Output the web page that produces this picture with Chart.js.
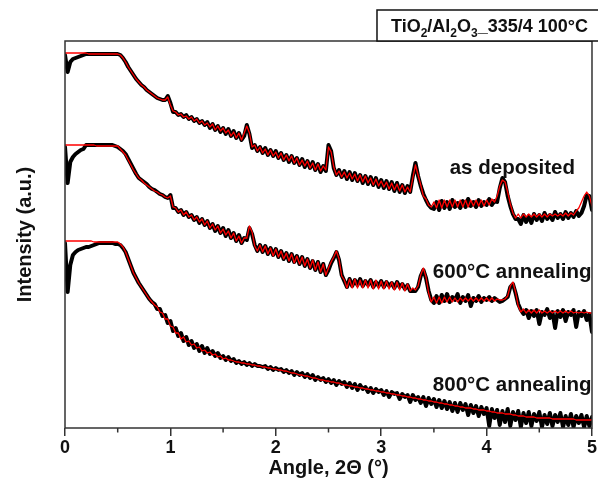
<!DOCTYPE html>
<html><head><meta charset="utf-8">
<script src="https://cdn.jsdelivr.net/npm/chart.js@4.4.1/dist/chart.umd.min.js"></script>
<style>html,body{margin:0;padding:0;background:#fff}canvas{display:block}</style>
</head><body>
<canvas id="c" width="598" height="488"></canvas>
<script>
// Scan grid of the measurement (2Theta, degrees)
const SCAN_START = 0, SCAN_STEP = 0.025, SCAN_POINTS = 201;
const angles = Array.from({length: SCAN_POINTS}, (_, i) => +(SCAN_START + i * SCAN_STEP).toFixed(3));

// Log intensity (a.u., curves offset vertically)
const asDepositedMeasured = [
373,356,366,369,370,371,372,373,
374,374,374,374,374,374,374,374,374,374,374,374,374,
373,370,366,361,357,353,349,346,343,341,338,336,334,332,330,329,328,328,332,325,316,
316,313,314,311,313,309,311,307,309,305,307,303,306,300,304,298,302,296,300,294,299,292,297,290,295,288,
292,303,294,280,
283,277,281,275,280,273,278,272,277,270,275,268,273,266,272,265,270,263,269,261,267,260,266,258,264,256,
262,257,283,277,260,253,
258,251,257,249,256,248,255,247,253,245,252,244,251,243,250,241,248,240,247,239,246,237,245,236,243,235,
242,236,252,265,252,242,234,228,223,220,
219,226,218,227,220,226,219,228,221,225,220,227,221,229,222,226,221,228,222,226,223,229,223,227,226,
240,250,246,232,222,214,209,
209,204,213,206,212,205,214,208,213,207,215,209,213,208,216,210,214,209,216,210,215,211,217,212,215,
222,233,232,218];
const asDepositedFit = [
375,375,375,375,375,375,375,375,375,374,374,374,374,374,374,374,374,374,374,374,374,
373,370,366,361,357,353,349,346,343,341,338,336,334,332,330,329,328,328,331,323,317,
316,313,314,311,312,309,311,307,309,305,307,303,305,301,304,298,302,297,300,295,298,292,296,290,295,288,
295,302,295,281,
283,277,281,275,279,273,278,272,276,270,275,268,273,267,272,265,270,263,268,262,267,260,265,258,264,257,262,258,281,276,261,253,
257,251,256,250,255,249,254,247,253,246,252,245,250,243,249,242,247,241,246,239,245,238,244,237,243,236,241,236,
250,263,253,243,232,229,223,221,
226,220,228,220,228,221,228,221,228,221,228,221,228,221,228,222,228,222,228,222,228,223,229,226,232,242,248,246,236,224,215,210,214,
210,214,211,214,211,214,211,214,211,214,211,214,212,214,212,214,212,215,212,215,213,217,220,226,232,236,232,222];

const annealed600Measured = [
281,245,266,271,274,276,278,279,
283,283,283,283,283,283,283,283,283,283,283,
282,281,
279,277,274,269,264,259,254,250,248,246,244,241,239,238,236,234,233,231,230,233,220,
220,216,218,213,216,211,213,208,211,205,209,203,207,200,204,197,202,195,200,192,198,190,195,187,193,185,
190,188,200,194,
183,177,183,176,182,174,180,173,179,171,177,169,175,167,174,166,172,164,171,162,169,160,167,158,166,156,164,
153,158,165,170,176,168,153,147,
141,149,142,148,143,149,142,147,143,148,141,146,142,147,141,146,142,145,140,146,141,144,139,143,137,137,137,141,152,158,150,137,128,125,
132,125,133,127,134,126,131,128,134,125,131,127,133,122,130,127,132,126,130,128,131,127,130,128,126,
127,129,131,141,144,135,124,118,
114,118,110,117,112,118,104,116,113,119,110,116,100,117,111,118,107,116,113,118,101,116,112,117,108,114,96];
const annealed600Fit = [
283,283,283,283,283,283,283,283,283,283,283,283,282,282,282,282,282,282,282,282,282,
279,276,273,268,263,258,254,250,248,245,243,241,239,237,236,234,233,231,230,232,221,
220,216,218,213,216,211,213,208,211,206,209,203,207,200,204,198,202,195,199,193,197,190,195,187,192,185,190,190,202,196,182,177,
183,176,182,174,180,172,179,171,177,169,175,167,174,165,172,164,171,162,169,160,168,158,166,156,164,153,160,166,171,177,169,152,148,
140,149,140,149,140,148,140,148,140,148,139,148,139,147,139,147,139,146,138,146,138,145,137,144,137,140,138,142,153,160,151,135,126,131,
125,131,125,131,126,131,126,130,126,130,127,130,127,130,127,130,127,130,127,130,127,130,127,129,128,128,129,132,142,146,136,122,116,
119,115,118,115,118,115,118,115,117,115,117,115,117,115,117,115,117,115,117,115,116,115,116,115,116,115,115];

const annealed800Measured = [
185,136,163,173,176,178,179,180,181,181,182,183,184,185,185,185,185,185,185,184,184,183,
180,176,169,162,155,150,145,141,137,133,129,126,
124,119,119,112,113,105,107,97,100,92,95,87,91,83,87,80,84,77,82,75,80,74,77,72,75,70,72,68,71,67,69,65,67,64,66,63,65,62,64,62,62,61,62,59,61,58,60,
58,59,56,58,55,57,53,56,53,55,51,54,50,53,48,51,48,50,46,49,45,48,43,47,44,46,41,45,40,44,38,43,39,41,36,40,35,39,36,38,
33,37,31,36,34,35,29,34,31,33,26,33,28,31,25,31,22,30,24,29,21,28,20,27,19,26,17,25,16,25,18,24,13,23,15,22,12,21,14,20,
2,19,10,18,3,17,6,19,2,16,8,17,1,15,5,16,2,14,7,16,1,13,4,15,2,13,6,15,1,12,3,14,1,12,5,13,1,12,2,11];
const annealed800Fit = [
187,187,187,187,187,187,187,187,187,187,187,186,186,186,186,186,186,186,186,186,186,
184,181,176,169,162,155,150,145,141,137,133,129,126,
123,121,116,115,109,109,102,101,95,95,89,91,86,87,83,84,80,81,77,78,75,76,73,74,71,72,69,70,68,68,67,66,66,65,65,64,64,63,63,62,
62,61,61,60,60,59,59,58,58,57,57,56,55,55,54,53,53,52,52,51,50,50,49,48,48,47,47,46,46,45,45,44,43,43,42,42,41,41,40,40,
39,39,38,38,37,37,36,36,35,35,34,34,33,33,32,32,31,31,30,30,29,29,28,28,27,27,26,26,25,25,24,24,23,23,22,22,21,21,20,20,
20,19,19,18,18,18,17,17,16,16,15,15,15,14,14,14,13,13,12,12,12,11,11,11,11,10,10,10,10,10,10,9,9,9,9,9,9,9,9,9,8,8,8,8,8,8,8];

const xMajorTicks = [0, 1, 2, 3, 4, 5];
const xMinorTicks = [0.5, 1.5, 2.5, 3.5, 4.5];
const curveNames = ['as deposited', '600°C annealing', '800°C annealing'];
const curveNameAngle = [3.65, 3.49, 3.49];
const curveNameLevel = [254, 150, 37];
const sampleParts = [['TiO', 0], ['2', 1], ['/Al', 0], ['2', 1], ['O', 0], ['3', 1], ['_335/4 100°C', 0]];

const FONT = '"Liberation Sans", Arial, Helvetica, sans-serif';
const pts = arr => angles.map((a, i) => ({x: a, y: arr[i]}));

const mk = (arr, fit) => ({
  data: pts(arr),
  borderColor: fit ? '#ff0000' : '#000000',
  borderWidth: fit ? 1.3 : 4,
  pointRadius: 0,
  tension: 0,
  borderJoinStyle: 'round',
  borderCapStyle: 'round',
  order: fit ? 0 : 1,
  fill: false
});

const decor = {
  id: 'decor',
  afterDraw(chart) {
    const {ctx, chartArea: {left, right, top, bottom}, scales: {x, y}} = chart;
    ctx.save();
    ctx.strokeStyle = '#333';
    ctx.lineWidth = 1.5;
    ctx.strokeRect(left, top, right - left, bottom - top);
    ctx.beginPath();
    xMinorTicks.forEach(v => {
      const px = x.getPixelForValue(v);
      ctx.moveTo(px, bottom); ctx.lineTo(px, bottom + 4.5);
    });
    ctx.stroke();

    ctx.fillStyle = '#111';
    ctx.font = 'bold 20.5px ' + FONT;
    ctx.textBaseline = 'alphabetic';
    ctx.textAlign = 'left';
    curveNames.forEach((t, i) => {
      ctx.fillText(t, x.getPixelForValue(curveNameAngle[i]), y.getPixelForValue(curveNameLevel[i]));
    });

    // sample name box
    const bx = right - 215, by = top - 31;
    ctx.fillStyle = '#fff';
    ctx.fillRect(bx, by, 220, 31);
    ctx.strokeStyle = '#111';
    ctx.strokeRect(bx, by, 222, 31);
    ctx.fillStyle = '#111';
    let tx = bx + 14;
    const base = by + 22;
    sampleParts.forEach(([t, sub]) => {
      ctx.font = sub ? 'bold 12px ' + FONT : 'bold 18px ' + FONT;
      ctx.fillText(t, tx, sub ? base + 5 : base);
      tx += ctx.measureText(t).width;
    });
    ctx.restore();
  }
};

new Chart(document.getElementById('c'), {
  type: 'line',
  data: {
    datasets: [
      mk(asDepositedFit, true), mk(annealed600Fit, true), mk(annealed800Fit, true),
      mk(asDepositedMeasured, false), mk(annealed600Measured, false), mk(annealed800Measured, false)
    ]
  },
  options: {
    responsive: false,
    animation: false,
    events: [],
    layout: {padding: {top: 41, right: 6, left: 0, bottom: 0}},
    plugins: {legend: {display: false}, tooltip: {enabled: false}},
    scales: {
      x: {
        type: 'linear', min: 0, max: 5,
        afterFit: s => { s.height = 60; },
        afterBuildTicks: s => { s.ticks = xMajorTicks.map(v => ({value: v})); },
        ticks: {color: '#111', font: {family: FONT, size: 18, weight: 'bold'}, padding: 1,
                callback: v => String(v), maxRotation: 0},
        grid: {drawOnChartArea: false, drawTicks: true, tickLength: 8, color: '#333', lineWidth: 1.5},
        border: {display: false},
        title: {display: true, text: 'Angle, 2Θ (°)', color: '#111',
                font: {family: FONT, size: 20, weight: 'bold'}, padding: {top: 0, bottom: 8}}
      },
      y: {
        type: 'linear', min: 0, max: 387,
        afterFit: s => { s.width = 65; },
        ticks: {display: false},
        grid: {display: false},
        border: {display: false},
        title: {display: true, text: 'Intensity (a.u.)', color: '#111',
                font: {family: FONT, size: 20, weight: 'bold'}, padding: {top: 13, bottom: 0}}
      }
    }
  },
  plugins: [decor]
});
</script>
</body></html>
